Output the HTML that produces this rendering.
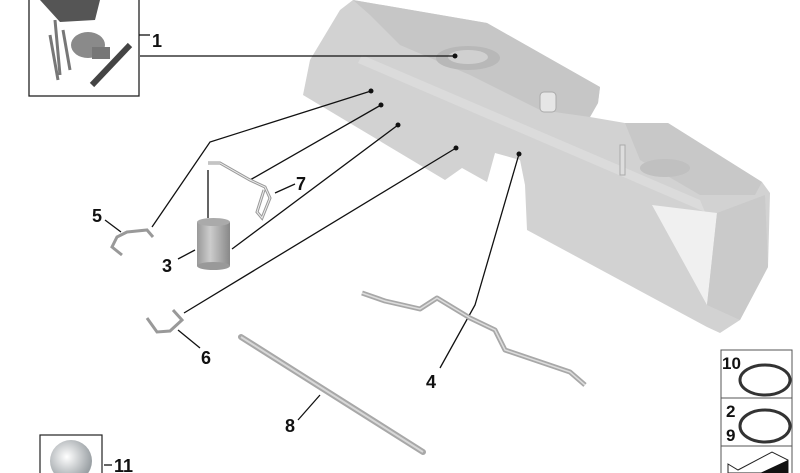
<!DOCTYPE html>
<html><head><style>html,body{margin:0;padding:0;background:#fff;}svg{display:block}</style></head><body>
<svg width="800" height="473" viewBox="0 0 800 473" xmlns="http://www.w3.org/2000/svg" font-family="Liberation Sans, sans-serif" font-weight="bold">
<defs>
<radialGradient id="sph" cx="0.4" cy="0.4" r="0.6"><stop offset="0" stop-color="#fff"/><stop offset="1" stop-color="#9aa0a4"/></radialGradient>
<linearGradient id="can" x1="0" x2="1"><stop offset="0" stop-color="#999"/><stop offset="0.4" stop-color="#ccc"/><stop offset="1" stop-color="#888"/></linearGradient>
</defs>
<!-- tank -->
<polygon points="353,0 487,23 600,87 598,103 590,117 625,123 668,123 762,182 770,193 768,267 740,320 720,333 707,327 527,230 525,185 520,160 495,153 487,182 462,168 445,180 303,95 310,60 340,10" fill="#d2d2d2"/>
<polygon points="353,0 487,23 600,87 598,103 590,117 540,110 470,75 400,45 370,15" fill="#c6c6c6"/>
<polygon points="362,55 700,200 705,212 358,63" fill="#dbdbdb"/>
<polygon points="625,123 668,123 762,182 755,195 700,195 640,160" fill="#c8c8c8"/>
<polygon points="652,205 717,213 707,305" fill="#f0f0f0"/>
<polygon points="717,213 765,195 768,267 740,320 707,305" fill="#cacaca"/>
<ellipse cx="468" cy="58" rx="32" ry="12" fill="#b8b8b8"/>
<ellipse cx="468" cy="57" rx="20" ry="7" fill="#d0d0d0"/>
<rect x="540" y="92" width="16" height="20" rx="4" fill="#e6e6e6" stroke="#aaa"/>
<rect x="620" y="145" width="5" height="30" fill="#ddd" stroke="#aaa"/>
<ellipse cx="665" cy="168" rx="25" ry="9" fill="#c0c0c0"/>
<!-- box 1 -->
<rect x="29" y="-2" width="110" height="98" fill="#fff" stroke="#222" stroke-width="1.3"/>
<path d="M40,0 L100,0 L95,20 L60,22Z" fill="#555"/>
<path d="M55,20 L60,75 M50,35 L58,80 M63,30 L70,70" stroke="#777" stroke-width="3" fill="none"/>
<ellipse cx="88" cy="45" rx="17" ry="13" fill="#8a8a8a"/>
<rect x="92" y="47" width="18" height="12" fill="#777"/>
<path d="M92,85 L130,45" stroke="#444" stroke-width="6"/>
<!-- lines -->
<g stroke="#111" stroke-width="1.3" fill="none">
<path d="M139,35 H150"/><path d="M140,56 H455"/>
<path d="M371,91 L210,142 L152,227"/>
<path d="M381,105 L250,180"/><path d="M275,193 L295,184"/>
<path d="M398,125 L232,249"/><path d="M178,259 L195,250"/>
<path d="M456,148 L184,313"/><path d="M178,330 L200,348"/>
<path d="M519,154 L475,305 L440,368"/>
<path d="M320,395 L298,420"/>
<path d="M105,220 L121,232"/>
<path d="M208,170 V218"/>
<path d="M104,465 H112"/>
</g>
<g fill="#111"><circle cx="455" cy="56" r="2.5"/><circle cx="371" cy="91" r="2.5"/><circle cx="381" cy="105" r="2.5"/><circle cx="398" cy="125" r="2.5"/><circle cx="456" cy="148" r="2.5"/><circle cx="519" cy="154" r="2.5"/></g>
<!-- parts -->
<path d="M208,163 L220,163 L250,180 L265,187 L270,198 L262,218 L257,212 L264,190" stroke="#999" stroke-width="3" fill="none"/>
<path d="M208,163 L220,163 L250,180 L265,187 L270,198 L262,218 L257,212 L264,190" stroke="#eee" stroke-width="1" fill="none"/>
<rect x="197" y="222" width="33" height="44" fill="url(#can)"/>
<ellipse cx="213.5" cy="266" rx="16.5" ry="4" fill="#999"/>
<ellipse cx="213.5" cy="222" rx="16.5" ry="4" fill="#aaa"/>
<path d="M122,255 L112,247 L117,237 L127,232 L147,230 L153,237" stroke="#999" stroke-width="3" fill="none"/>
<path d="M147,318 L157,332 L170,331 L182,320 L173,310" stroke="#999" stroke-width="3" fill="none"/>
<path d="M241,337 L423,452" stroke="#a8a8a8" stroke-width="6" stroke-linecap="round"/>
<path d="M241,337 L423,452" stroke="#d8d8d8" stroke-width="2"/>
<path d="M362,293 L385,301 L420,309 L437,298 L470,318 L495,330 L505,350 L570,372 L585,385" stroke="#a8a8a8" stroke-width="5" fill="none" stroke-linejoin="round"/>
<path d="M362,293 L385,301 L420,309 L437,298 L470,318 L495,330 L505,350 L570,372 L585,385" stroke="#ddd" stroke-width="1.5" fill="none"/>
<!-- labels -->
<g font-size="18" fill="#111">
<text x="152" y="47">1</text><text x="92" y="222">5</text><text x="296" y="190">7</text>
<text x="162" y="272">3</text><text x="201" y="364">6</text><text x="426" y="388">4</text>
<text x="285" y="432">8</text><text x="114" y="472">11</text>
</g>
<!-- box 11 -->
<rect x="40" y="435" width="62" height="40" fill="#fff" stroke="#222" stroke-width="1.2"/>
<circle cx="71" cy="461" r="21" fill="url(#sph)"/>
<!-- right boxes -->
<g stroke="#555" stroke-width="1" fill="#fff"><rect x="721" y="350" width="71" height="48"/><rect x="721" y="398" width="71" height="48"/><rect x="721" y="446" width="71" height="30"/></g>
<ellipse cx="765" cy="380" rx="25" ry="15" fill="none" stroke="#333" stroke-width="3"/>
<ellipse cx="765" cy="426" rx="25" ry="16" fill="none" stroke="#333" stroke-width="3"/>
<g font-size="17" fill="#111"><text x="722" y="369">10</text><text x="726" y="417">2</text><text x="726" y="441">9</text></g>
<path d="M728,464 L738,470 L772,452 L788,460 L788,473 L728,473Z" fill="#fff" stroke="#222"/>
<path d="M760,473 L788,460 L788,473Z" fill="#111"/>
</svg>
</body></html>
